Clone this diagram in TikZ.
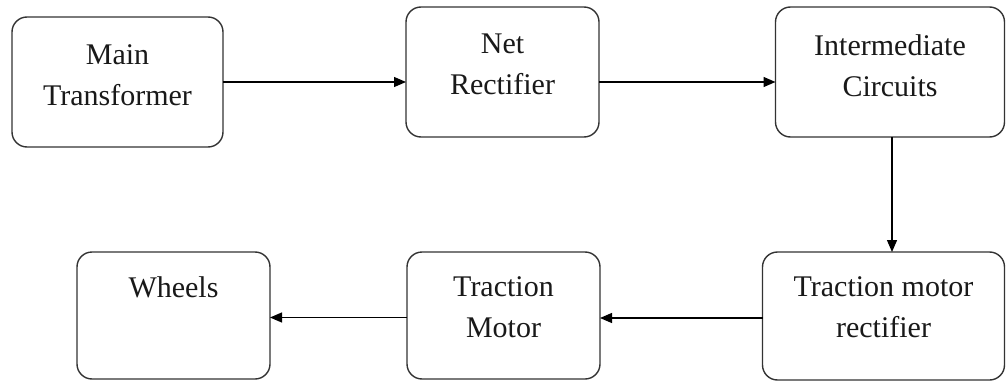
\documentclass[tikz,border=0pt]{standalone}
\usepackage{fontspec}
\setmainfont{Liberation Serif}
\usetikzlibrary{arrows.meta,calc}
\begin{document}
\begin{tikzpicture}[x=1pt,y=1pt,
  box/.style={draw=black!80, line width=1.4pt, rounded corners=15pt, inner sep=0pt, outer sep=0pt, fill=white},
  lbl/.style={anchor=north, align=center, inner sep=0pt, font=\fontsize{30}{41}\selectfont, text=black!90},
  arr/.style={draw=black, line width=1.3pt, -{Triangle[length=12pt,width=10pt]}}]
\useasboundingbox (0,0) rectangle (1006,381);
\node[box, minimum width=211pt, minimum height=130pt] (b1) at (117.5,299) {};
\node[box, minimum width=193pt, minimum height=130pt] (b2) at (502.5,309) {};
\node[box, minimum width=229pt, minimum height=130pt] (b3) at (890,309) {};
\node[box, minimum width=242pt, minimum height=128pt] (b4) at (883.5,65) {};
\node[box, minimum width=193pt, minimum height=127pt] (b5) at (503.5,65.5) {};
\node[box, minimum width=193pt, minimum height=127pt] (b6) at (173.5,65.5) {};
\node[lbl] (t1) at ($(b1.north)+(0,-27)$) {Main\\Transformer};
\node[lbl] (t2) at ($(b2.north)+(0,-27)$) {Net\\Rectifier};
\node[lbl] (t3) at ($(b3.north)+(0,-27)$) {Intermediate\\Circuits};
\node[lbl] (t4) at ($(b4.north)+(0,-24)$) {Traction motor\\rectifier};
\node[lbl] (t5) at ($(b5.north)+(0,-24)$) {Traction\\Motor};
\node[lbl] (t6) at ($(b6.north)+(0,-24)$) {Wheels};
\coordinate (c3) at ($(b3.south)+(2,0)$);
\coordinate (c4) at ($(b4.west)+(0,-2)$);
\coordinate (c5) at ($(b5.west)+(0,-2)$);
\draw[arr] (b1.east) -- (b1.east -| b2.west);
\draw[arr] (b2.east |- b1.east) -- (b3.west |- b1.east);
\draw[arr] (c3) -- (c3 |- b4.north);
\draw[arr] (c4) -- (c4 -| b5.east);
\draw[arr] (c5) -- (c5 -| b6.east);
\end{tikzpicture}
\end{document}
